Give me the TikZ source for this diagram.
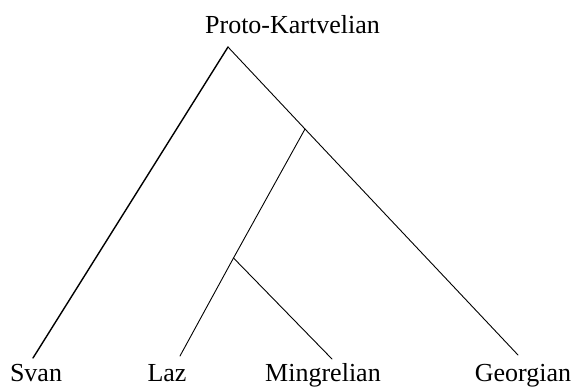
\documentclass[tikz,border=0pt]{standalone}
\usepackage{fontspec}
\setmainfont{Liberation Serif}
\begin{document}
\begin{tikzpicture}[x=1pt,y=-1pt,
  lbl/.style={anchor=base,inner sep=0pt,font=\fontsize{26}{30}\selectfont},
  branch/.style={line width=0.9pt,line cap=round},
  thickbranch/.style={line width=1.4pt,line cap=round}]
\useasboundingbox (0,0) rectangle (575,386);
% labels
\node[lbl] (proto) at (292.5,33) {Proto-Kartvelian};
\node[lbl] (svan) at (36,381) {Svan};
\node[lbl] (laz) at (167,381) {Laz};
\node[lbl] (ming) at (323,381) {Mingrelian};
\node[lbl] (geo) at (523,381) {Georgian};
% junctions and line ends
\coordinate (apex) at (228,47);
\coordinate (b1) at (305,129);
\coordinate (b2) at (233.5,258);
\coordinate (svanend) at (33,358);
\coordinate (lazend) at (180,356);
\coordinate (mingend) at (332,359);
\coordinate (geoend) at (518,355);
% connectors
\draw[thickbranch] (apex) -- (svanend);
\draw[branch] (apex) -- (b1) -- (geoend);
\draw[branch] (b1) -- (b2) -- (lazend);
\draw[branch] (b2) -- (mingend);
\end{tikzpicture}
\end{document}
